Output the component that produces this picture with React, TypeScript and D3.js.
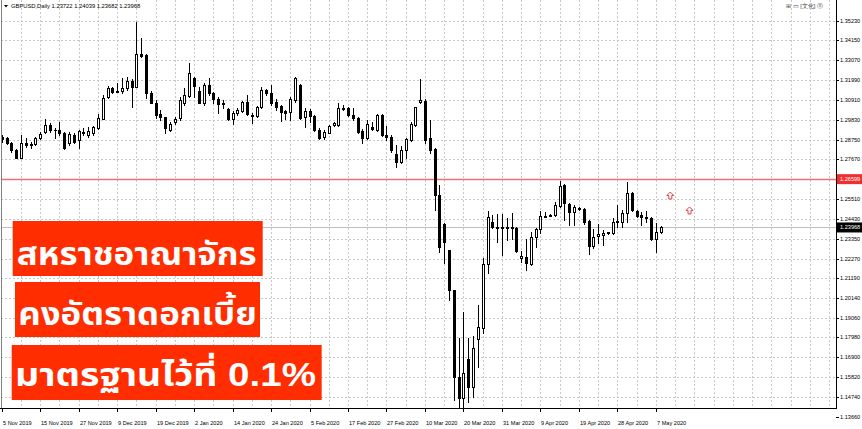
import React from "react";
import * as d3 from "d3";

const W = 862;
const H = 429;

// OHLC daily candles, GBPUSD, 5 Nov 2019 .. 8 May 2020
const opens = [
  1.2888, 1.2882, 1.2855, 1.2819, 1.2777, 1.2858, 1.2850, 1.2851, 1.2882, 1.2918,
  1.2955, 1.2930, 1.2928, 1.2910, 1.2855, 1.2900, 1.2873, 1.2918, 1.2900, 1.2910,
  1.2937, 1.2987, 1.3106, 1.3155, 1.3138, 1.3140, 1.3155, 1.3196, 1.3163, 1.3340,
  1.3336, 1.3131, 1.3076, 1.3013, 1.2997, 1.2928, 1.2970, 1.2991, 1.3073, 1.3113,
  1.3209, 1.3140, 1.3076, 1.3173, 1.3127, 1.3095, 1.3075, 1.3040, 1.2987, 1.3018,
  1.3031, 1.3082, 1.3005, 1.3006, 1.3051, 1.3145, 1.3127, 1.3078, 1.3058, 1.3031,
  1.3027, 1.3091, 1.3173, 1.2999, 1.3033, 1.3004, 1.2928, 1.2888, 1.2913, 1.2955,
  1.2955, 1.3046, 1.3046, 1.3009, 1.2995, 1.2922, 1.2882, 1.2946, 1.2928, 1.3009,
  1.2900, 1.2888, 1.2795, 1.2755, 1.2819, 1.2873, 1.2955, 1.3078, 1.3087, 1.2882,
  1.2824, 1.2574, 1.2416, 1.2274, 1.2057, 1.1585, 1.1467, 1.1679, 1.1530, 1.1788,
  1.1848, 1.2198, 1.2428, 1.2401, 1.2398, 1.2401, 1.2401, 1.2392, 1.2229, 1.2238,
  1.2198, 1.2343, 1.2387, 1.2457, 1.2463, 1.2465, 1.2514, 1.2628, 1.2525, 1.2483,
  1.2503, 1.2496, 1.2434, 1.2296, 1.2350, 1.2356, 1.2366, 1.2368, 1.2427, 1.2428,
  1.2477, 1.2586, 1.2487, 1.2465, 1.2456, 1.2450, 1.2332, 1.23722,
];
const highs = [
  1.2900, 1.2891, 1.2864, 1.2822, 1.2900, 1.2882, 1.2864, 1.2891, 1.2918, 1.2986,
  1.2964, 1.2940, 1.2973, 1.2918, 1.2918, 1.2910, 1.2928, 1.2937, 1.2946, 1.2949,
  1.3013, 1.3118, 1.3169, 1.3163, 1.3182, 1.3209, 1.3214, 1.3204, 1.3517, 1.3427,
  1.3340, 1.3140, 1.3091, 1.3036, 1.3000, 1.2973, 1.3000, 1.3109, 1.3155, 1.3291,
  1.3218, 1.3163, 1.3182, 1.3209, 1.3136, 1.3109, 1.3091, 1.3046, 1.3031, 1.3046,
  1.3087, 1.3118, 1.3018, 1.3058, 1.3160, 1.3149, 1.3173, 1.3095, 1.3064, 1.3036,
  1.3109, 1.3214, 1.3176, 1.3046, 1.3040, 1.3009, 1.2937, 1.2928, 1.2955, 1.2973,
  1.3073, 1.3064, 1.3051, 1.3046, 1.3000, 1.2931, 1.2982, 1.2973, 1.3015, 1.3013,
  1.2949, 1.2900, 1.2846, 1.2842, 1.2882, 1.2973, 1.3054, 1.3204, 1.3095, 1.2982,
  1.2828, 1.2628, 1.2423, 1.2274, 1.2057, 1.1794, 1.1938, 1.1794, 1.1806, 1.1975,
  1.2229, 1.2487, 1.2465, 1.2469, 1.2469, 1.2446, 1.2474, 1.2401, 1.2270, 1.2333,
  1.2374, 1.2396, 1.2488, 1.2483, 1.2470, 1.2537, 1.2652, 1.2632, 1.2529, 1.2519,
  1.2507, 1.2501, 1.2437, 1.2387, 1.2416, 1.2383, 1.2374, 1.2446, 1.2518, 1.2492,
  1.2646, 1.2590, 1.2492, 1.2483, 1.2487, 1.2456, 1.2420, 1.24039,
];
const lows = [
  1.2864, 1.2851, 1.2809, 1.2773, 1.2773, 1.2837, 1.2828, 1.2846, 1.2877, 1.2913,
  1.2918, 1.2884, 1.2900, 1.2824, 1.2846, 1.2855, 1.2828, 1.2900, 1.2891, 1.2900,
  1.2933, 1.2986, 1.3100, 1.3131, 1.3136, 1.3131, 1.3145, 1.3051, 1.3163, 1.3327,
  1.3100, 1.3073, 1.2991, 1.2982, 1.2910, 1.2922, 1.2960, 1.2982, 1.3064, 1.3106,
  1.3109, 1.3073, 1.3064, 1.3118, 1.3073, 1.3018, 1.3046, 1.2982, 1.2960, 1.3009,
  1.3027, 1.3009, 1.2967, 1.3000, 1.3046, 1.3118, 1.3064, 1.3036, 1.2978, 1.2986,
  1.2982, 1.3082, 1.2987, 1.2946, 1.2973, 1.2924, 1.2877, 1.2877, 1.2910, 1.2949,
  1.2949, 1.3036, 1.3004, 1.2982, 1.2913, 1.2855, 1.2877, 1.2928, 1.2924, 1.2895,
  1.2873, 1.2809, 1.2728, 1.2746, 1.2773, 1.2869, 1.2949, 1.3073, 1.2858, 1.2804,
  1.2492, 1.2265, 1.2205, 1.2002, 1.1458, 1.1412, 1.1412, 1.1448, 1.1476, 1.1639,
  1.1821, 1.2147, 1.2392, 1.2319, 1.2247, 1.2329, 1.2334, 1.2265, 1.2211, 1.2165,
  1.2193, 1.2292, 1.2365, 1.2452, 1.2458, 1.2459, 1.2510, 1.2438, 1.2410, 1.2410,
  1.2492, 1.2416, 1.2253, 1.2284, 1.2311, 1.2301, 1.2362, 1.2361, 1.2401, 1.2401,
  1.2428, 1.2488, 1.2456, 1.2410, 1.2428, 1.2329, 1.2265, 1.23682,
];
const closes = [
  1.2879, 1.2855, 1.2819, 1.2777, 1.2855, 1.2846, 1.2853, 1.2882, 1.2906, 1.2955,
  1.2928, 1.2926, 1.2910, 1.2828, 1.2906, 1.2864, 1.2922, 1.2910, 1.2922, 1.2946,
  1.2991, 1.3103, 1.3155, 1.3136, 1.3142, 1.3155, 1.3194, 1.3163, 1.3340, 1.3332,
  1.3131, 1.3076, 1.3009, 1.3000, 1.2937, 1.2960, 1.2987, 1.3091, 1.3118, 1.3236,
  1.3167, 1.3076, 1.3173, 1.3127, 1.3095, 1.3069, 1.3071, 1.2986, 1.3018, 1.3036,
  1.3082, 1.3013, 1.3009, 1.3051, 1.3145, 1.3127, 1.3073, 1.3054, 1.3027, 1.3018,
  1.3095, 1.3209, 1.2991, 1.3033, 1.3004, 1.2928, 1.2882, 1.2918, 1.2949, 1.2964,
  1.3046, 1.3044, 1.3009, 1.2995, 1.2918, 1.2882, 1.2960, 1.2933, 1.3009, 1.2900,
  1.2888, 1.2819, 1.2755, 1.2819, 1.2877, 1.2960, 1.3051, 1.3091, 1.2873, 1.2819,
  1.2574, 1.2292, 1.2319, 1.2057, 1.1585, 1.1467, 1.1603, 1.1530, 1.1739, 1.1853,
  1.2198, 1.2452, 1.2401, 1.2392, 1.2396, 1.2392, 1.2392, 1.2270, 1.2242, 1.2202,
  1.2343, 1.2387, 1.2459, 1.2461, 1.2465, 1.2519, 1.2623, 1.2529, 1.2483, 1.2507,
  1.2496, 1.2428, 1.2296, 1.2343, 1.2361, 1.2368, 1.2370, 1.2428, 1.2430, 1.2477,
  1.2583, 1.2492, 1.2460, 1.2452, 1.2447, 1.2332, 1.2374, 1.23968,
];

// time axis labels, one every 8 bars
const dateLabels = [
  "5 Nov 2019", "15 Nov 2019", "27 Nov 2019", "9 Dec 2019", "19 Dec 2019",
  "2 Jan 2020", "14 Jan 2020", "24 Jan 2020", "5 Feb 2020", "17 Feb 2020",
  "27 Feb 2020", "10 Mar 2020", "20 Mar 2020", "31 Mar 2020", "9 Apr 2020",
  "19 Apr 2020", "28 Apr 2020", "7 May 2020",
];
const barsPerLabel = 8;
const barsPerGrid = 4;

// price scale grid levels / labels
const priceTicks = [
  1.35230, 1.34150, 1.33070, 1.31990, 1.30910, 1.29830, 1.28750, 1.27670, 1.26590,
  1.25510, 1.24430, 1.23350, 1.22270, 1.21190, 1.20140, 1.19060, 1.17980, 1.16900,
  1.15820, 1.14740, 1.13660,
];
const levelPrice = 1.26599;
const bidPrice = 1.23968;
const headerText = "GBPUSD,Daily  1.23722 1.24039 1.23682 1.23968";
const arrowBars = [139, 143];
const arrowPrices = [1.2568, 1.2487];
const titleThai = ["สหราชอาณาจักร", "คงอัตราดอกเบี้ย", "มาตรฐานไว้ที่"];
const titleLatin = ["", "", " 0.1%"];

const PLOT_L = 1;
const PLOT_R = 836;
const PLOT_B = 408;

export default function App() {
  React.useEffect(() => {
    document.body.style.margin = "0";
  }, []);

  const n = closes.length;
  const x = d3.scaleLinear().domain([0, n - 1]).range([1.7, 1.7 + (n - 1) * 4.81]);
  const y = d3.scaleLinear().domain([1.1366, 1.3523]).range([416.8, 20.6]);
  const axisFont = "'Liberation Sans', Arial, sans-serif";
  const px = (v: number) => Math.round(v) + 0.5;

  const gridXs: number[] = [];
  for (let b = barsPerGrid; x(b) < PLOT_R; b += barsPerGrid) gridXs.push(x(b));

  const yLevel = y(levelPrice);
  const yBid = y(bidPrice);

  const boxes = [
    { x: 12.7, y: 221, w: 250, h: 55, tx: 16.7, tw: 240, ty: 265 },
    { x: 15, y: 282, w: 245, h: 55, tx: 18.3, tw: 238.5, ty: 325 },
    { x: 11.7, y: 345, w: 310, h: 55, tx: 15, tw: 301, ty: 386 },
  ];

  return (
    <svg width={W} height={H} style={{ position: "absolute", left: 0, top: 0, background: "#fff" }}>
      <rect x={0} y={0} width={W} height={H} fill="#fff" />
      <defs>
        <clipPath id="plot">
          <rect x={PLOT_L} y={0} width={PLOT_R - PLOT_L} height={PLOT_B} />
        </clipPath>
      </defs>
      {/* grid */}
      <g stroke="#c8c8c8" strokeDasharray="2,2" strokeWidth={1} shapeRendering="crispEdges">
        {priceTicks.map((p, i) => {
          const yy = px(y(p));
          return yy < PLOT_B ? <line key={"h" + i} x1={PLOT_L} x2={PLOT_R} y1={yy} y2={yy} /> : null;
        })}
        {gridXs.map((gx, i) => (
          <line key={"v" + i} x1={px(gx)} x2={px(gx)} y1={0} y2={PLOT_B} />
        ))}
      </g>
      {/* level line and bid line */}
      <line x1={PLOT_L} x2={PLOT_R} y1={px(yLevel)} y2={px(yLevel)} stroke="#f07070" strokeWidth={1.5} />
      <line x1={PLOT_L} x2={PLOT_R} y1={px(yBid)} y2={px(yBid)} stroke="#c0c0c0" strokeWidth={1} shapeRendering="crispEdges" />
      {/* candles */}
      <g clipPath="url(#plot)" shapeRendering="crispEdges">
        {closes.map((c, i) => {
          const o = opens[i];
          const cx = Math.round(x(i));
          const top = Math.round(y(Math.max(o, c)));
          const bot = Math.round(y(Math.min(o, c)));
          const bull = c >= o;
          return (
            <g key={i}>
              <line x1={cx + 0.5} x2={cx + 0.5} y1={Math.round(y(highs[i]))} y2={Math.round(y(lows[i])) + 1} stroke="#000" />
              <rect
                x={cx - 1 + (bull ? 0.5 : 0)}
                y={top + (bull ? 0.5 : 0)}
                width={bull ? 2 : 3}
                height={Math.max(bull ? bot - top : bot - top + 1, 1)}
                fill={bull ? "#fff" : "#000"}
                stroke={bull ? "#000" : "none"}
              />
            </g>
          );
        })}
      </g>
      {/* arrows */}
      {arrowBars.map((b, i) => {
        const ax = x(b);
        const ay = y(arrowPrices[i]);
        const path = `M${ax},${ay - 4} L${ax + 3.5},${ay - 0.5} L${ax + 1.5},${ay - 0.5} L${ax + 1.5},${ay + 3} L${ax - 1.5},${ay + 3} L${ax - 1.5},${ay - 0.5} L${ax - 3.5},${ay - 0.5} Z`;
        return <path key={"a" + i} d={path} fill="#fff" stroke="#e23030" strokeWidth={0.9} />;
      })}
      {/* frame */}
      <g stroke="#000" shapeRendering="crispEdges">
        <line x1={PLOT_L + 0.5} x2={PLOT_L + 0.5} y1={0} y2={PLOT_B} stroke="#808080" />
        <line x1={PLOT_R + 0.5} x2={PLOT_R + 0.5} y1={0} y2={PLOT_B + 1} />
        <line x1={0} x2={PLOT_R + 1} y1={PLOT_B + 0.5} y2={PLOT_B + 0.5} />
      </g>
      {/* price axis */}
      <g fontFamily={axisFont} fontSize={5.6} fill="#000">
        {priceTicks.map((p, i) => {
          const yy = y(p);
          if (Math.abs(yy - yLevel) < 8) return null;
          return (
            <g key={"pt" + i}>
              <line x1={PLOT_R} x2={PLOT_R + 3} y1={px(yy)} y2={px(yy)} stroke="#000" shapeRendering="crispEdges" />
              <text x={840} y={yy + 2}>{p.toFixed(5)}</text>
            </g>
          );
        })}
        <rect x={PLOT_R + 1} y={yLevel - 5} width={W - PLOT_R - 1} height={10} fill="#f03030" />
        <text x={840} y={yLevel + 2} fill="#fff">{levelPrice.toFixed(5)}</text>
        <rect x={PLOT_R + 1} y={yBid - 5} width={W - PLOT_R - 1} height={10} fill="#000" />
        <text x={840} y={yBid + 2} fill="#fff">{bidPrice.toFixed(5)}</text>
      </g>
      {/* time axis */}
      <g fontFamily={axisFont} fontSize={5.6} fill="#000">
        {dateLabels.map((d, i) => {
          const tx = Math.round(x(i * barsPerLabel));
          return (
            <g key={"d" + i}>
              <line x1={tx + 0.5} x2={tx + 0.5} y1={PLOT_B} y2={PLOT_B + 4} stroke="#000" shapeRendering="crispEdges" />
              <text x={tx + 1} y={425}>{d}</text>
            </g>
          );
        })}
      </g>
      {/* header */}
      <g fontFamily={axisFont} fontSize={5.8} fill="#000">
        <path d="M4,5 L8,5 L6,7.5 Z" fill="#000" />
        <text x={11} y={8}>{headerText}</text>
        <text x={786} y={8} fill="#444">⊞ ▭ [文化] ⓢ</text>
      </g>
      {/* headline boxes */}
      {boxes.map((b, i) => (
        <g key={"t" + i}>
          <rect x={b.x} y={b.y} width={b.w} height={b.h} fill="#ff2d00" />
          <text
            x={b.tx}
            y={b.ty}
            fill="#fff"
            fontSize={32}
            fontWeight="bold"
            fontFamily="'Noto Sans Thai', Tahoma, 'Noto Sans', 'Liberation Sans', sans-serif"
            textLength={b.tw}
            lengthAdjust="spacingAndGlyphs"
          >
            {titleThai[i]}
            {titleLatin[i] ? (
              <tspan fontFamily="'Liberation Sans', Arial, sans-serif" fontSize={33}>
                {titleLatin[i]}
              </tspan>
            ) : null}
          </text>
        </g>
      ))}
    </svg>
  );
}
